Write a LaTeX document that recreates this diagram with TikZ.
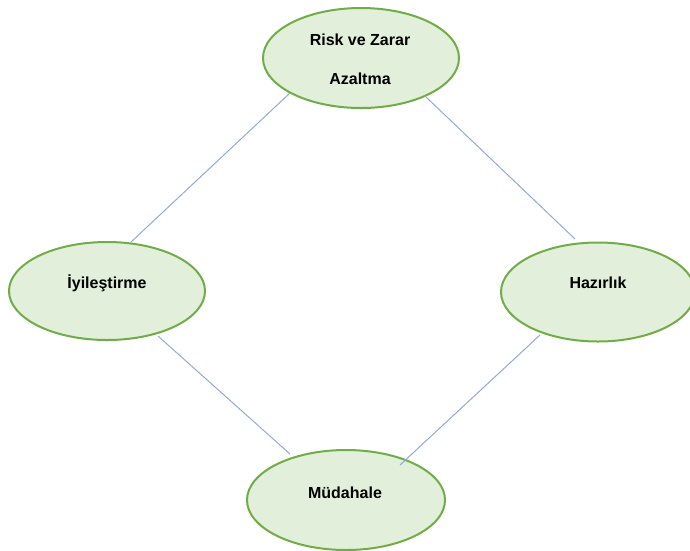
\documentclass[tikz,border=0pt]{standalone}
\usepackage{fontspec}
\setmainfont{Liberation Sans}
\usetikzlibrary{shapes.geometric}
\definecolor{ovalfill}{RGB}{226,239,218}
\definecolor{ovaldraw}{RGB}{112,173,71}
\definecolor{linkcol}{RGB}{143,170,220}
\tikzset{
  oval/.style={ellipse, draw=ovaldraw, fill=ovalfill, line width=2pt, inner sep=0pt},
  txt/.style={font=\bfseries\fontsize{16}{19}\selectfont, inner sep=0pt},
  link/.style={draw=linkcol, line width=1pt}
}
\begin{document}
\begin{tikzpicture}[x=1pt,y=-1pt]
\useasboundingbox (0,0) rectangle (690,550);
% links
\coordinate (a1) at (290,93);
\coordinate (a2) at (131,242);
\coordinate (b1) at (426,97);
\coordinate (b2) at (575,239);
\coordinate (c1) at (158,336);
\coordinate (c2) at (290,454);
\coordinate (d1) at (540,335);
\coordinate (d2) at (400,465);
\node[oval, minimum width=196pt, minimum height=100pt] (top) at (361,58) {};
\node[oval, minimum width=196pt, minimum height=98pt] (left) at (107,291) {};
\node[oval, minimum width=194pt, minimum height=99pt] (right) at (598,292) {};
\node[oval, minimum width=198pt, minimum height=100pt] (bot) at (346,500) {};
\draw[link] (a1) -- (a2);
\draw[link] (b1) -- (b2);
\draw[link] (c1) -- (c2);
\draw[link] (d1) -- (d2);
\node[txt] (t1) at (360,40) {Risk ve Zarar};
\node[txt] (t2) at (360,79) {Azaltma};
\node[txt] (t3) at (107,283) {İyileştirme};
\node[txt] (t4) at (598,283) {Hazırlık};
\node[txt] (t5) at (345,493) {Müdahale};
\end{tikzpicture}
\end{document}
